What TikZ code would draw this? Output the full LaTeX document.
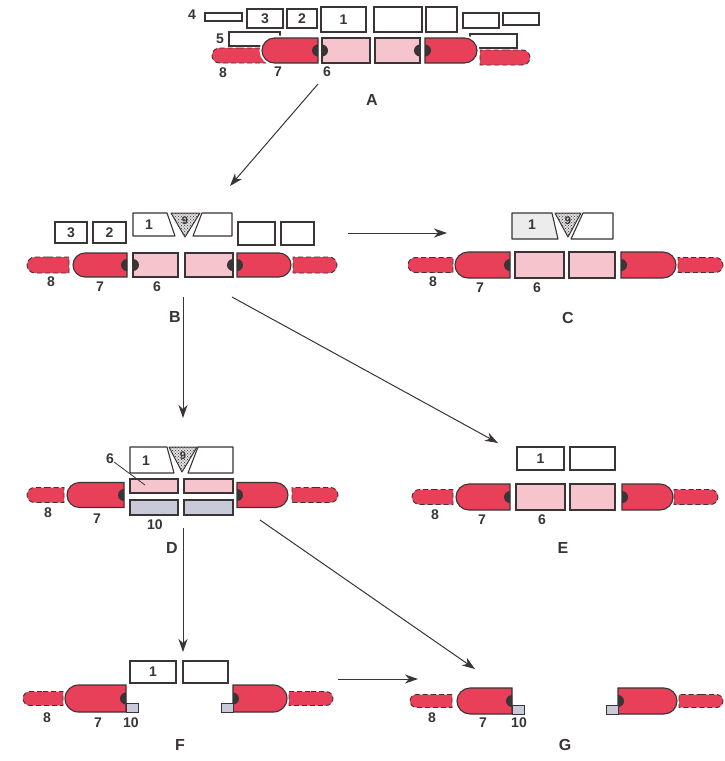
\documentclass[tikz,border=0pt]{standalone}
\usepackage{fontspec}
\setmainfont{Liberation Sans}
\usepackage{xcolor}
\usepackage{tikz}
\usetikzlibrary{arrows.meta,positioning,shapes.misc,patterns}
\definecolor{ink}{RGB}{58,52,54}
\definecolor{cellred}{RGB}{232,64,88}
\definecolor{cellpink}{RGB}{246,196,204}
\definecolor{capgray}{RGB}{236,236,236}
\definecolor{plate}{RGB}{200,202,218}
\newcommand{\numfont}{\fontsize{14}{16}\selectfont\bfseries}
\newcommand{\ninefont}{\fontsize{11}{12}\selectfont\bfseries}
\newcommand{\panelfont}{\fontsize{16}{18}\selectfont\bfseries}
\tikzset{
  box/.style={rectangle, draw=ink, fill=white, line width=1.1pt, inner sep=0pt, outer sep=0pt, font=\numfont, text=ink},
  redcell/.style={rounded rectangle, rounded rectangle right arc=none, draw=ink, fill=cellred, line width=1.1pt, minimum height=25pt, inner sep=0pt, outer sep=0pt},
  redcellR/.style={redcell, rounded rectangle right arc=convex, rounded rectangle left arc=none},
  pinkcell/.style={rectangle, draw=ink, fill=cellpink, line width=1.1pt, minimum height=25pt, inner sep=0pt, outer sep=0pt},
  stub/.style={rounded rectangle, rounded rectangle right arc=none, draw=ink, fill=cellred, dash pattern=on 5pt off 3pt, line width=0.9pt, minimum height=15pt, inner sep=0pt, outer sep=0pt},
  stubR/.style={stub, rounded rectangle right arc=convex, rounded rectangle left arc=none},
  plug/.style={rectangle, draw=ink, fill=plate, line width=0.9pt, minimum width=12pt, minimum height=9pt, inner sep=0pt, outer sep=0pt},
  capbox/.style={draw=ink, fill=white, line width=1.1pt, line join=round},
  core/.style={draw=ink, line width=1pt, line join=round, preaction={fill=gray!25}, pattern=crosshatch dots, pattern color=ink},
  halo/.style={preaction={draw=white, line width=5pt}},
  lab/.style={font=\numfont, text=ink, inner sep=0pt},
  ninelab/.style={font=\ninefont, text=ink, inner sep=0pt},
  panel/.style={font=\panelfont, text=ink, inner sep=0pt},
  line/.style={-{Stealth[length=13pt, width=9pt, inset=4pt]}, draw=ink, line width=1pt},
  dotL/.pic={\clip (-7pt,-7pt) rectangle (0pt,7pt); \fill[ink] (0pt,0pt) circle[radius=6pt];},
  dotR/.pic={\clip (0pt,-7pt) rectangle (7pt,7pt); \fill[ink] (0pt,0pt) circle[radius=6pt];}
}

\begin{document}
\begin{tikzpicture}[x=1pt, y=-1pt]
  \fill[white] (0,0) rectangle (724,761);

  \node[box, minimum width=37pt, minimum height=8pt] (a4) at (223.5,17) {};
  \node[lab] (a4l) at (192,15) {4};
  \node[box, minimum width=36pt, minimum height=19pt] (a3) at (265,18.5) {3};
  \node[box, minimum width=30pt, minimum height=19pt] (a2) at (302,18.5) {2};
  \node[box, minimum width=45pt, minimum height=25pt] (a1) at (343.5,19.5) {1};
  \node[box, minimum width=48pt, minimum height=25pt] (a1b) at (398,19.5) {};
  \node[box, minimum width=31pt, minimum height=25pt] (a2b) at (441.5,19.5) {};
  \node[box, minimum width=36pt, minimum height=15pt] (a3b) at (481,20.5) {};
  \node[box, minimum width=36pt, minimum height=12pt] (a4b) at (521,19) {};
  \node[box, minimum width=51pt, minimum height=14pt] (a5) at (254.5,39) {};
  \node[lab] (a5l) at (220,39) {5};
  \node[box, minimum width=47pt, minimum height=14pt] (a5b) at (493.5,41) {};
  \node[stub, minimum width=54pt] (a8) at (239,55.5) {};
  \node[stubR, minimum width=50pt] (a8b) at (505,57.5) {};
  \node[redcell, halo, minimum width=56pt] (a7) at (290,50.5) {};
  \node[pinkcell, minimum width=48pt, right=4pt of a7] (a6) {};
  \node[pinkcell, minimum width=45pt, right=5pt of a6] (a6b) {};
  \node[redcellR, halo, minimum width=52pt, right=5pt of a6b] (a7b) {};
  \pic at (a7.east) {dotL};
  \pic at (a6.west) {dotR};
  \pic at (a6b.east) {dotL};
  \pic at (a7b.west) {dotR};
  \node[lab] (a8l) at (223,73) {8};
  \node[lab] (a7l) at (278,72) {7};
  \node[lab] (a6l) at (327,72) {6};
  \node[panel] (pA) at (372,100) {A};

  \node[box, minimum width=32pt, minimum height=21pt] (b3) at (71,232.5) {3};
  \node[box, minimum width=33pt, minimum height=21pt] (b2) at (109.5,232.5) {2};
  \draw[capbox] (133,213) -- (167,213) -- (175,236) -- (133,236) -- cycle;
  \node[lab] (b1) at (149,225) {1};
  \draw[core] (171,213) -- (200,213) -- (185,237) -- cycle;
  \node[ninelab] (b9) at (185,221) {9};
  \draw[capbox] (202,213) -- (232,213) -- (232,236) -- (193,236) -- cycle;
  \node[box, minimum width=37pt, minimum height=23pt] (b2b) at (256.5,233.5) {};
  \node[box, minimum width=33pt, minimum height=23pt] (b3b) at (297.5,233.5) {};
  \node[stub, minimum width=42pt, minimum height=16pt] (b8) at (48,265) {};
  \node[redcell, minimum width=54pt, minimum height=24pt, right=4pt of b8] (b7) {};
  \node[pinkcell, minimum width=45pt, minimum height=24pt, right=6pt of b7] (b6) {};
  \node[pinkcell, minimum width=48pt, minimum height=24pt, right=7pt of b6] (b6b) {};
  \node[redcellR, minimum width=54pt, minimum height=24pt, right=4pt of b6b] (b7b) {};
  \node[stubR, minimum width=44pt, minimum height=16pt, right=2pt of b7b] (b8b) {};
  \pic at (b7.east) {dotL};
  \pic at (b6.west) {dotR};
  \pic at (b6b.east) {dotL};
  \pic at (b7b.west) {dotR};
  \node[lab] (b8l) at (51,282) {8};
  \node[lab] (b7l) at (100,287) {7};
  \node[lab] (b6l) at (157,287) {6};
  \node[panel] (pB) at (175,317) {B};

  \draw[capbox, fill=capgray] (512,213) -- (552,213) -- (558,239) -- (512,239) -- cycle;
  \node[lab] (c1) at (532,225) {1};
  \draw[core] (555,213) -- (581,213) -- (568,237) -- cycle;
  \node[ninelab] (c9) at (568,221) {9};
  \draw[capbox] (583,213) -- (613,213) -- (613,239) -- (571,239) -- cycle;
  \node[stub, minimum width=45pt] (c8) at (430.5,265) {};
  \node[redcell, minimum width=55pt, minimum height=26pt, right=2pt of c8] (c7) {};
  \node[pinkcell, minimum width=49pt, minimum height=26pt, right=5pt of c7] (c6) {};
  \node[pinkcell, minimum width=46pt, minimum height=26pt, right=5pt of c6] (c6b) {};
  \node[redcellR, minimum width=55pt, minimum height=26pt, right=6pt of c6b] (c7b) {};
  \node[stubR, minimum width=45pt, right=2pt of c7b] (c8b) {};
  \pic at (c7.east) {dotL};
  \pic at (c7b.west) {dotR};
  \node[lab] (c8l) at (433,282) {8};
  \node[lab] (c7l) at (480,288) {7};
  \node[lab] (c6l) at (537,288) {6};
  \node[panel] (pC) at (568,318) {C};

  \draw[capbox] (130,447) -- (167,447) -- (174,473) -- (130,473) -- cycle;
  \node[lab] (d1) at (146,461) {1};
  \draw[core] (169,447) -- (197,447) -- (182,472) -- cycle;
  \node[ninelab] (d9) at (183,456) {9};
  \draw[capbox] (198,447) -- (233,447) -- (233,473) -- (188,473) -- cycle;
  \node[stub, minimum width=37pt] (d8) at (45.5,495) {};
  \node[redcell, minimum width=57pt, right=3pt of d8] (d7) {};
  \node[pinkcell, minimum width=48pt, minimum height=14pt] (d6) at (154,486) {};
  \node[pinkcell, minimum width=49pt, minimum height=14pt] (d6b) at (208.5,486) {};
  \node[pinkcell, fill=plate, minimum width=48pt, minimum height=15pt] (d10) at (154,507.5) {};
  \node[pinkcell, fill=plate, minimum width=49pt, minimum height=15pt] (d10b) at (208.5,507.5) {};
  \node[redcellR, minimum width=51pt] (d7b) at (262.5,495) {};
  \node[stubR, minimum width=46pt, right=4pt of d7b] (d8b) {};
  \pic at (d7.east) {dotL};
  \pic at (d7b.west) {dotR};
  \node[lab] (d6l) at (110,459) {6};
  \coordinate (d6tip) at (145,485);
  \draw[ink, line width=0.8pt] (d6l) -- (d6tip);
  \node[lab] (d8l) at (48,513) {8};
  \node[lab] (d7l) at (97,519) {7};
  \node[lab] (d10l) at (155,525) {10};
  \node[panel] (pD) at (172,548) {D};

  \node[box, minimum width=47pt, minimum height=23pt] (e1) at (540.5,458.5) {1};
  \node[box, minimum width=45pt, minimum height=23pt] (e1b) at (592.5,458.5) {};
  \node[stub, minimum width=41pt] (e8) at (432.5,497) {};
  \node[redcell, minimum width=54pt, minimum height=26pt, right=3pt of e8] (e7) {};
  \node[pinkcell, minimum width=49pt, minimum height=26pt, right=6pt of e7] (e6) {};
  \node[pinkcell, minimum width=45pt, minimum height=26pt, right=5pt of e6] (e6b) {};
  \node[redcellR, minimum width=51pt, minimum height=26pt, right=7pt of e6b] (e7b) {};
  \node[stubR, minimum width=44pt, right=1pt of e7b] (e8b) {};
  \pic at (e7.east) {dotL};
  \pic at (e7b.west) {dotR};
  \node[lab] (e8l) at (435,515) {8};
  \node[lab] (e7l) at (482,520) {7};
  \node[lab] (e6l) at (542,520) {6};
  \node[panel] (pE) at (563,548) {E};

  \node[box, minimum width=46pt, minimum height=22pt] (f1) at (153,672) {1};
  \node[box, minimum width=45pt, minimum height=22pt] (f1b) at (205.5,672) {};
  \node[stub, minimum width=40pt, minimum height=14pt] (f8) at (43,698.5) {};
  \node[redcell, minimum width=61pt, minimum height=27pt, right=2pt of f8] (f7) {};
  \node[plug, anchor=south west] (f10) at (f7.south east) {};
  \node[redcellR, minimum width=54pt, minimum height=27pt] (f7b) at (260,698.5) {};
  \node[plug, anchor=south east] (f10b) at (f7b.south west) {};
  \node[stubR, minimum width=44pt, minimum height=14pt, right=2pt of f7b] (f8b) {};
  \pic at (f7.east) {dotL};
  \pic at (f7b.west) {dotR};
  \node[lab] (f8l) at (47,718) {8};
  \node[lab] (f7l) at (98,723) {7};
  \node[lab] (f10l) at (131,723) {10};
  \node[panel] (pF) at (180,745) {F};

  \node[stub, minimum width=42pt, minimum height=13pt] (g8) at (431,701) {};
  \node[redcell, minimum width=55pt, minimum height=26pt, right=5pt of g8] (g7) {};
  \node[plug, anchor=south west] (g10) at (g7.south east) {};
  \node[redcellR, minimum width=59pt, minimum height=26pt] (g7b) at (647.5,701) {};
  \node[plug, anchor=south east] (g10b) at (g7b.south west) {};
  \node[stubR, minimum width=44pt, minimum height=13pt, right=2pt of g7b] (g8b) {};
  \pic at (g7.east) {dotL};
  \pic at (g7b.west) {dotR};
  \node[lab] (g8l) at (432,718) {8};
  \node[lab] (g7l) at (483,723) {7};
  \node[lab] (g10l) at (519,723) {10};
  \node[panel] (pG) at (565,745) {G};

  \coordinate (ab0) at (318,84);
  \coordinate (ab1) at (230,186);
  \coordinate (bc0) at (348,233);
  \coordinate (bc1) at (447,233);
  \coordinate (be0) at (232,297);
  \coordinate (be1) at (498,443);
  \coordinate (bd0) at (183,297);
  \coordinate (bd1) at (183,418);
  \coordinate (df0) at (183,528);
  \coordinate (df1) at (183,652);
  \coordinate (dg0) at (260,520);
  \coordinate (dg1) at (475,669);
  \coordinate (fg0) at (338,679);
  \coordinate (fg1) at (418,679);
  \draw[line] (ab0) -- (ab1);
  \draw[line] (bc0) -- (bc1);
  \draw[line] (be0) -- (be1);
  \draw[line] (bd0) -- (bd1);
  \draw[line] (df0) -- (df1);
  \draw[line] (dg0) -- (dg1);
  \draw[line] (fg0) -- (fg1);
\end{tikzpicture}
\end{document}
